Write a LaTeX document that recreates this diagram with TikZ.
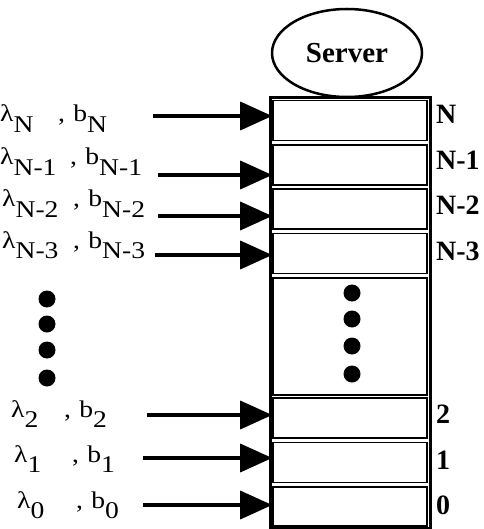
\documentclass[tikz,border=0pt]{standalone}
\usepackage{fontspec}
\usepackage{graphicx}
\setmainfont{Liberation Serif}
\usetikzlibrary{arrows.meta,shapes.geometric}
\tikzset{
  slot/.style={draw,line width=1.6pt,minimum width=154pt,minimum height=40pt,inner sep=0pt},
  feed/.style={line width=3.5pt,-{Triangle[length=32pt,width=28pt]}},
  qlab/.style={anchor=base west,inner sep=0pt,font=\fontsize{24}{26}\selectfont},
  slab/.style={anchor=west,inner sep=0pt,font=\bfseries\fontsize{28}{30}\selectfont},
  blob/.style={circle,fill=black,minimum size=17pt,inner sep=0pt}
}
\newcommand{\sub}[1]{\raisebox{-0.45em}{#1}}
\newcommand{\wide}[1]{\scalebox{1.15}[1]{#1}}
\begin{document}
\begin{tikzpicture}[x=1pt,y=-1pt]
\useasboundingbox (0,0) rectangle (483,529);
% server and queue column
\node[ellipse,draw,line width=2.5pt,minimum width=150pt,minimum height=88pt,
  font=\bfseries\fontsize{29}{30}\selectfont] (server) at (347,53) {Server};
\draw[line width=3pt] (270,98) rectangle (430,528);
\node[slot] (sN) at (350,120.5) {};
\node[slot] (sN1) at (350,165) {};
\node[slot] (sN2) at (350,209) {};
\node[slot] (sN3) at (350,253.5) {};
\node[slot,minimum height=117pt] (sdots) at (350,336.5) {};
\node[slot] (s2) at (350,418) {};
\node[slot] (s1) at (350,462.5) {};
\node[slot,minimum height=39pt] (s0) at (350,506.5) {};
\foreach \y [count=\i] in {293,319,346,374}
  \node[blob] (cd\i) at (352,\y) {};
% level numbers
\node[slab] (nN) at (436,114) {N};
\node[slab] (nN1) at (436,160) {N-1};
\node[slab] (nN2) at (436,205) {N-2};
\node[slab] (nN3) at (436,251) {N-3};
\node[slab] (n2) at (436,414) {2};
\node[slab] (n1) at (436,460) {1};
\node[slab] (n0) at (436,505) {0};
% arrival rates and buffers
\node[qlab] (lN) at (0,122) {\wide{λ\sub{N}}};
\node[qlab] (bN) at (58,122) {\wide{,\hspace{0.3em}b\sub{N}}};
\node[qlab] (lN1) at (0,165) {\wide{λ\sub{N-1}}};
\node[qlab] (bN1) at (70,165) {\wide{,\hspace{0.3em}b\sub{N-1}}};
\node[qlab] (lN2) at (2,207) {\wide{λ\sub{N-2}}};
\node[qlab] (bN2) at (73,207) {\wide{,\hspace{0.3em}b\sub{N-2}}};
\node[qlab] (lN3) at (2,248) {\wide{λ\sub{N-3}}};
\node[qlab] (bN3) at (73,248) {\wide{,\hspace{0.3em}b\sub{N-3}}};
\node[qlab] (l2) at (11,417) {\wide{λ\sub{2}}};
\node[qlab] (b2) at (64,417) {\wide{,\hspace{0.3em}b\sub{2}}};
\node[qlab] (l1) at (14,462) {\wide{λ\sub{1}}};
\node[qlab] (b1) at (72,462) {\wide{,\hspace{0.3em}b\sub{1}}};
\node[qlab] (l0) at (17,508) {\wide{λ\sub{0}}};
\node[qlab] (b0) at (76,508) {\wide{,\hspace{0.3em}b\sub{0}}};
\foreach \y [count=\i] in {299,324,350,378}
  \node[blob] (ld\i) at (47,\y) {};
% arrows into the slots
\coordinate (tN) at (153,116);
\coordinate (tN1) at (158,175);
\coordinate (tN2) at (158,216);
\coordinate (tN3) at (155,255);
\coordinate (t2) at (147,415);
\coordinate (t1) at (143,458);
\coordinate (t0) at (143,505);
\foreach \k in {N,N1,N2,N3,2,1,0}
  \draw[feed] (t\k) -- (t\k -| s\k.west);
\end{tikzpicture}
\end{document}
